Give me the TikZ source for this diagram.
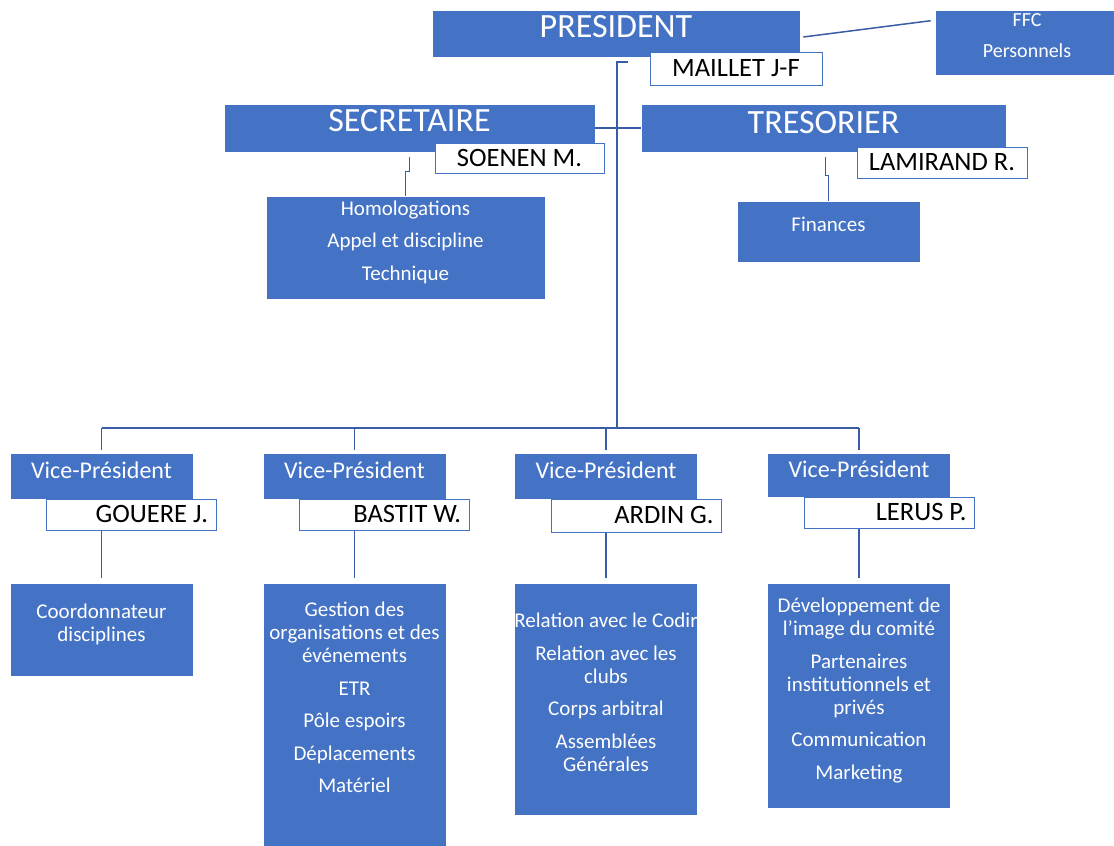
\documentclass[tikz,border=0pt]{standalone}
\usepackage{fontspec}
\setmainfont{Carlito}
\usepackage{tikz}
\usetikzlibrary{positioning}
\definecolor{office}{HTML}{4472C4}
\definecolor{linkblue}{HTML}{3A5CA5}

\begin{document}
\begin{tikzpicture}[x=1pt, y=-1pt,
  bossbox/.style={rectangle, draw=white, line width=0.6pt, fill=office, text=white, inner sep=0pt, font=\fontsize{34}{40}\selectfont, text height=21.5pt},
  holder/.style={rectangle, draw=office, line width=1pt, fill=white, text=black, inner sep=0pt, font=\fontsize{26.5}{30}\selectfont, text height=16.6pt, text depth=0pt},
  vpbox/.style={rectangle, draw=white, line width=0.6pt, fill=office, text=white, minimum width=183pt, minimum height=46pt, inner sep=0pt, font=\fontsize{24}{28}\selectfont, text height=15.2pt, text depth=10pt},
  vpholder/.style={holder, minimum height=31pt, text width=154pt, inner xsep=8pt, align=flush right},
  unit/.style={rectangle, draw=white, line width=0.6pt, fill=office, minimum width=183pt},
  unittext/.style={text=white, inner sep=0pt, anchor=north, align=center, font=\fontsize{21}{23}\selectfont},
  link/.style={draw=linkblue, line width=1.5pt},
  trunk/.style={draw=linkblue, line width=2pt}
]
\useasboundingbox (0,0) rectangle (1114,846);

% Bureau
\node[bossbox, minimum width=368pt, minimum height=47pt, text depth=13pt] (pres) at (616,33.5) {PRESIDENT};
\node[holder, minimum width=172pt, minimum height=33pt] (maillet) at (736,68.5) {MAILLET J-F};
\node[unit, minimum width=184pt, minimum height=65pt] (ffc) at (1027,42.5) {};
\node[unittext, font=\fontsize{20}{22}\selectfont] (ffcT) at (1027,13.5) {FFC\\[9pt]Personnels};

\node[bossbox, minimum width=371pt, minimum height=48pt, text depth=14pt] (sec) at (409.5,128) {SECRETAIRE};
\node[holder, minimum width=169pt, minimum height=30pt] (soenen) at (519.5,158) {SOENEN M.};
\node[bossbox, minimum width=365pt, minimum height=48pt, text depth=10pt] (tres) at (823.5,128) {TRESORIER};
\node[holder, minimum width=170pt, minimum height=31pt] (lamirand) at (942,162.5) {LAMIRAND R.};

% Commissions of the bureau
\node[unit, minimum width=279pt, minimum height=103pt] (homol) at (405.5,247.5) {};
\node[unittext] (homolT) at (405.5,200.5) {Homologations\\[9.5pt]Appel et discipline\\[9.5pt]Technique};
\node[unit, minimum height=61pt] (fin) at (828.5,231.5) {};
\node[unittext] (finT) at (828.5,217) {Finances};

% Vice-presidents
\node[vpbox] (vp1) at (101.5,476) {Vice-Président};
\node[vpholder] (gouere) at (131,514.5) {GOUERE J.};
\node[vpbox] (vp2) at (354.5,476) {Vice-Président};
\node[vpholder] (bastit) at (384,514.5) {BASTIT W.};
\node[vpbox] (vp3) at (606,476) {Vice-Président};
\node[vpholder, minimum height=33pt] (ardin) at (636.5,515.5) {ARDIN G.};
\node[vpbox, minimum height=44pt] (vp4) at (859,475) {Vice-Président};
\node[vpholder] (lerus) at (889.5,512.5) {LERUS P.};

% Tasks of the vice-presidents
\node[unit, minimum height=93pt] (task1) at (101.5,629.5) {};
\node[unittext] (task1T) at (101.5,604) {Coordonnateur\\disciplines};
\node[unit, minimum height=265pt] (task2) at (354.5,715.5) {};
\node[unittext] (task2T) at (354.5,602) {Gestion des\\organisations et des\\événements\\[9.5pt]ETR\\[9.5pt]Pôle espoirs\\[9.5pt]Déplacements\\[9.5pt]Matériel};
\node[unit, minimum height=232pt] (task3) at (606,699) {};
\node[unittext] (task3T) at (606,613) {Relation avec le Codir\\[9.5pt]Relation avec les\\clubs\\[9.5pt]Corps arbitral\\[9.5pt]Assemblées\\Générales};
\node[unit, minimum height=225pt] (task4) at (859,695.5) {};
\node[unittext] (task4T) at (859,598) {Développement de\\l’image du comité\\[9.5pt]Partenaires\\institutionnels et\\privés\\[9.5pt]Communication\\[9.5pt]Marketing};

% Connections
\coordinate (top) at (617,62);
\coordinate (hub) at (617,428);
\draw[trunk] ([xshift=11pt]top) -- (top) -- (hub);
\draw[link] (sec.east) -- (tres.west);
\draw[link] ([xshift=3pt,yshift=-3.5pt]pres.east) -- ([xshift=-4pt,yshift=-11pt]ffc.north west);
\draw[link] ([yshift=-5pt]sec.south) -- ++(0,14) -| (homol.north);
\draw[link] ([xshift=2pt,yshift=-5pt]tres.south) -- ++(0,18) -| (fin.north);

\draw[link] (vp1.north |- hub) -- (vp4.north |- hub);
\draw[link] (vp1.north |- hub) -- ([yshift=3pt]vp1.north);
\draw[link] (vp2.north |- hub) -- ([yshift=3pt]vp2.north);
\draw[link] (vp3.north |- hub) -- ([yshift=3pt]vp3.north);
\draw[link] (vp4.north |- hub) -- ([yshift=3pt]vp4.north);

\draw[link] (vp1.south |- gouere.south) -- ([yshift=5pt]task1.north);
\draw[link] (vp2.south |- bastit.south) -- ([yshift=5pt]task2.north);
\draw[link] (vp3.south |- ardin.south) -- ([yshift=5pt]task3.north);
\draw[link] (vp4.south |- lerus.south) -- ([yshift=5pt]task4.north);

\end{tikzpicture}
\end{document}
